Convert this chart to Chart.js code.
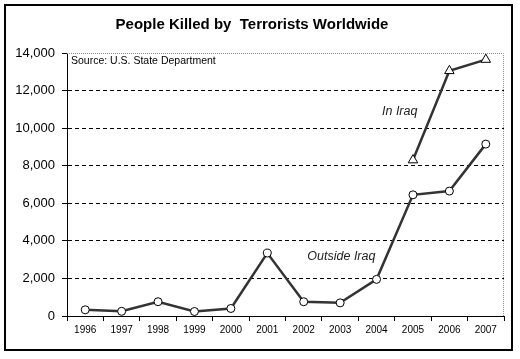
<!DOCTYPE html>
<html>
<head>
<meta charset="utf-8">
<script src="https://cdn.jsdelivr.net/npm/chart.js@4.4.1/dist/chart.umd.min.js"></script>
<style>
  html, body { margin: 0; padding: 0; background: #fff; }
  #wrap { width: 520px; height: 359px; }
</style>
</head>
<body>
<div id="wrap"><canvas id="myChart" width="520" height="359"></canvas></div>
<script>
const years = ["1996", "1997", "1998", "1999", "2000", "2001", "2002", "2003", "2004", "2005", "2006", "2007"];
const outsideIraq = [330, 250, 760, 240, 400, 3350, 760, 700, 1950, 6450, 6650, 9150];
const inIraq = [null, null, null, null, null, null, null, null, null, 8300, 13050, 13650];
const yTicks = [0, 2000, 4000, 6000, 8000, 10000, 12000, 14000];

// text notes, placed in data units (category index, value)
const notes = [
    { text: "In Iraq", x: 8.15, y: 10900, italic: true },
    { text: "Outside Iraq", x: 6.1, y: 3150, italic: true }
];

const frame = {
    id: "frame",
    beforeDraw(chart) {
        const c = chart.ctx;
        c.save();
        c.fillStyle = "#fff";
        c.fillRect(0, 0, chart.width, chart.height);
        c.restore();
    },
    afterDraw(chart) {
        const c = chart.ctx;
        const a = chart.chartArea;
        c.save();
        // gray dotted top and right edges of the plot
        c.strokeStyle = "#8c8c8c";
        c.lineWidth = 1;
        c.setLineDash([1, 1]);
        c.beginPath();
        c.moveTo(a.left, a.top + 0.5);
        c.lineTo(a.right - 0.5, a.top + 0.5);
        c.lineTo(a.right - 0.5, a.bottom);
        c.stroke();
        c.setLineDash([]);

        // outer box
        c.strokeStyle = "#000";
        c.lineWidth = 2;
        c.strokeRect(5, 5, 507, 345);

        // source note
        c.fillStyle = "#000";
        c.font = "10.5px Arial, 'Liberation Sans'";
        c.textBaseline = "middle";
        c.textAlign = "left";
        c.fillText("Source: U.S. State Department", a.left + 4, a.top + 8);

        const xs = chart.scales.x, ys = chart.scales.y;
        notes.forEach(n => {
            c.font = (n.italic ? "italic " : "") + "12.5px Arial, 'Liberation Sans'";
            c.fillStyle = "#222";
            c.fillText(n.text, xs.getPixelForValue(n.x), ys.getPixelForValue(n.y));
        });
        c.restore();
    }
};

const ctx = document.getElementById("myChart").getContext("2d");
const chart = new Chart(ctx, {
    type: "line",
    data: {
        labels: years,
        datasets: [
            {
                label: "Outside Iraq",
                data: outsideIraq,
                borderColor: "#333",
                borderWidth: 2.5,
                pointStyle: "circle",
                pointRadius: 4,
                pointBackgroundColor: "#fff",
                pointBorderColor: "#000",
                pointBorderWidth: 1,
                tension: 0
            },
            {
                label: "In Iraq",
                data: inIraq,
                borderColor: "#333",
                borderWidth: 2.5,
                pointStyle: "triangle",
                pointRadius: 5.5,
                pointBackgroundColor: "#fff",
                pointBorderColor: "#000",
                pointBorderWidth: 1,
                spanGaps: false,
                tension: 0
            }
        ]
    },
    options: {
        responsive: false,
        animation: false,
        layout: { padding: { left: 0, right: 16, top: 0, bottom: 0 } },
        scales: {
            x: {
                type: "category",
                offset: true,
                afterFit(s) { s.height = 43; },
                grid: {
                    offset: true,
                    drawOnChartArea: false,
                    drawTicks: true,
                    tickLength: 5,
                    tickColor: "#000"
                },
                border: { display: true, color: "#000", width: 1 },
                ticks: {
                    color: "#000",
                    padding: 3,
                    maxRotation: 0,
                    autoSkip: false,
                    font: { family: "Arial, 'Liberation Sans'", size: 10 }
                }
            },
            y: {
                min: 0,
                max: 14000,
                afterFit(s) { s.width = 67; },
                afterBuildTicks(s) { s.ticks = yTicks.map(v => ({ value: v })); },
                grid: {
                    color: c => (c.tick && c.tick.value > 0 && c.tick.value < 14000) ? "#000" : "rgba(0,0,0,0)",
                    tickColor: "#000",
                    tickLength: 5,
                    lineWidth: 1
                },
                border: { display: true, color: "#000", width: 1, dash: [4, 3] },
                ticks: {
                    color: "#000",
                    padding: 7,
                    font: { family: "Arial, 'Liberation Sans'", size: 13 },
                    callback: v => v.toLocaleString("en-US")
                }
            }
        },
        plugins: {
            legend: { display: false },
            tooltip: { enabled: false },
            title: {
                display: true,
                text: "People Killed by  Terrorists Worldwide",
                color: "#000",
                font: { family: "Arial, 'Liberation Sans'", size: 15, weight: "bold" },
                padding: { top: 16, bottom: 19 }
            }
        }
    },
    plugins: [frame]
});
</script>
</body>
</html>
